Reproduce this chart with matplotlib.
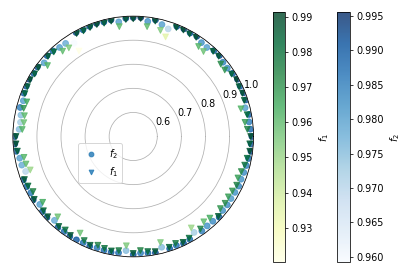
import numpy as np
import matplotlib
matplotlib.use("Agg")
import matplotlib.pyplot as plt
from matplotlib.lines import Line2D

# angle of each sample, degrees
theta_deg = np.arange(100) * 3.6

f1 = [0.988, 0.975, 0.968, 0.982, 0.962, 0.985, 0.988, 0.986, 0.990, 0.984,
      0.970, 0.972, 0.987, 0.985, 0.958, 0.962, 0.988, 0.986, 0.989, 0.987,
      0.935, 0.955, 0.988, 0.960, 0.9913, 0.989, 0.987, 0.960, 0.988, 0.986,
      0.989, 0.987, 0.985, 0.988, 0.9203, 0.955, 0.960, 0.982, 0.986, 0.962,
      0.987, 0.985, 0.989, 0.986, 0.984, 0.965, 0.970, 0.960, 0.958, 0.962,
      0.987, 0.988, 0.985, 0.962, 0.960, 0.950, 0.986, 0.983, 0.975, 0.987,
      0.965, 0.984, 0.987, 0.958, 0.985, 0.980, 0.987, 0.958, 0.978, 0.986,
      0.975, 0.980, 0.984, 0.978, 0.955, 0.986, 0.975, 0.982, 0.987, 0.955,
      0.984, 0.978, 0.986, 0.982, 0.950, 0.975, 0.960, 0.965, 0.985, 0.970,
      0.972, 0.968, 0.970, 0.975, 0.968, 0.972, 0.978, 0.982, 0.988, 0.985]

f2 = [0.993, 0.988, 0.985, 0.990, 0.980, 0.992, 0.993, 0.991, 0.994, 0.990,
      0.983, 0.984, 0.992, 0.990, 0.980, 0.982, 0.993, 0.991, 0.994, 0.992,
      0.970, 0.980, 0.993, 0.982, 0.9956, 0.994, 0.992, 0.980, 0.993, 0.991,
      0.994, 0.992, 0.990, 0.993, 0.9592, 0.978, 0.980, 0.988, 0.991, 0.980,
      0.992, 0.990, 0.994, 0.991, 0.989, 0.980, 0.985, 0.975, 0.972, 0.975,
      0.992, 0.993, 0.990, 0.980, 0.978, 0.970, 0.991, 0.989, 0.986, 0.992,
      0.980, 0.990, 0.992, 0.978, 0.991, 0.988, 0.992, 0.990, 0.987, 0.991,
      0.986, 0.988, 0.990, 0.987, 0.975, 0.991, 0.985, 0.988, 0.992, 0.975,
      0.990, 0.987, 0.991, 0.988, 0.972, 0.985, 0.982, 0.983, 0.990, 0.982,
      0.983, 0.981, 0.982, 0.984, 0.982, 0.983, 0.985, 0.988, 0.993, 0.991]

theta = np.deg2rad(theta_deg)

fig = plt.figure(figsize=(6, 3.947), dpi=69.17)
ax = fig.add_axes([0.031, 0.057, 0.580, 0.886], projection="polar")

sc2 = ax.scatter(theta, f2, c=f2, cmap="Blues", marker="o", alpha=0.8, label="$f_2$")
sc1 = ax.scatter(theta, f1, c=f1, cmap="YlGn", marker="v", alpha=0.8, label="$f_1$")

ax.set_ylim(0.5, 1.0)
ax.set_yticks([0.6, 0.7, 0.8, 0.9, 1.0])
ax.set_xticks([])

# legend markers show the default colour, not the colormap
handles = [Line2D([], [], marker="o", linestyle="", color="C0", alpha=0.8, markersize=5),
           Line2D([], [], marker="v", linestyle="", color="C0", alpha=0.8, markersize=5)]
ax.legend(handles, ["$f_2$", "$f_1$"], loc="upper left", bbox_to_anchor=(0.188, 0.476),
          bbox_transform=fig.transFigure, borderaxespad=0)

cax1 = fig.add_axes([0.658, 0.040, 0.029, 0.916])
cb1 = fig.colorbar(sc1, cax=cax1)
cb1.set_label("$f_1$")

cax2 = fig.add_axes([0.812, 0.040, 0.031, 0.916])
cb2 = fig.colorbar(sc2, cax=cax2)
cb2.set_label("$f_2$")

fig.savefig("out.png", dpi=69.17)
